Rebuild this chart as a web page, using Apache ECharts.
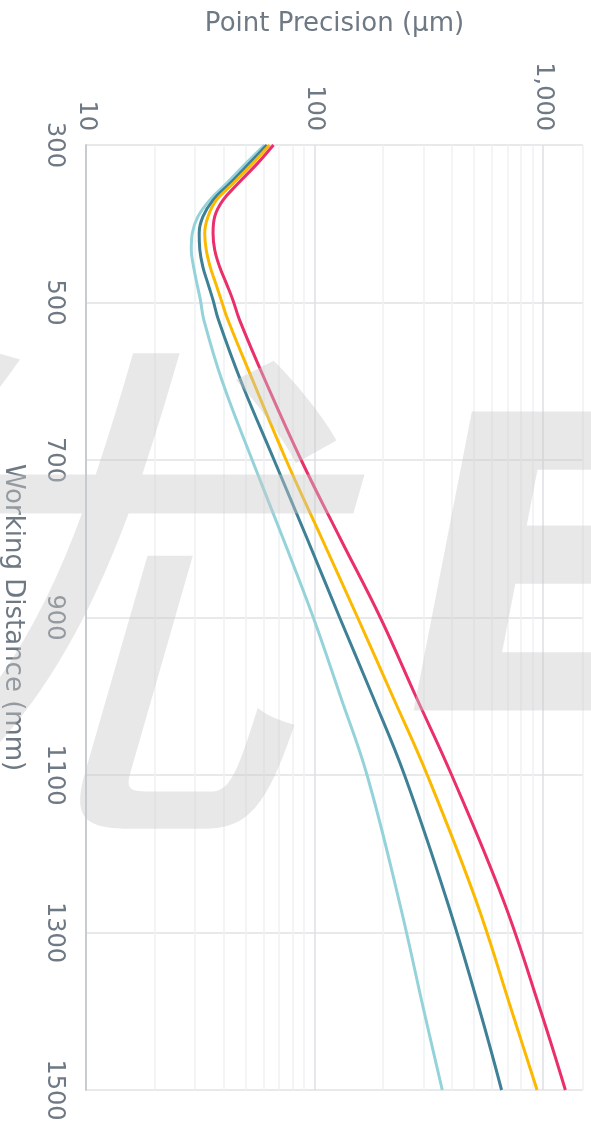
<!DOCTYPE html>
<html>
<head>
<meta charset="utf-8">
<script src="https://cdn.jsdelivr.net/npm/echarts@6/dist/echarts.min.js"></script>
<style>
html,body{margin:0;padding:0;background:#ffffff;}
#c{width:591px;height:1122px;}
</style>
</head>
<body>
<div id="c"></div>
<script>
// Working distance (mm) at which each precision value was read
const workingDistance = [300, 323, 349, 370, 391, 412, 433, 455, 476, 497, 522, 600, 700, 800, 900, 1000, 1100, 1260, 1400, 1500];
// Point precision (µm) for each curve
const lightBlue = [60.5, 50.3, 41.2, 34.8, 30.9, 29.2, 28.9, 29.6, 30.6, 31.7, 32.8, 39.5, 53.4, 73, 98.9, 130, 170, 235, 302, 363];
const darkTeal  = [61.9, 52.0, 42.6, 36.0, 32.5, 31.3, 31.5, 32.5, 34.2, 36.0, 38.0, 47.7, 66.6, 93, 129, 180, 248, 381, 531, 660];
const amber     = [63.6, 53.8, 44.0, 37.2, 34.2, 33.1, 33.6, 35.0, 37.0, 39.1, 41.8, 53.9, 75.2, 107.9, 154.6, 220, 312, 511, 732, 944];
const crimson   = [66.2, 56.5, 46.3, 39.8, 36.6, 36.0, 36.6, 38.5, 41.2, 44.0, 47.0, 61.1, 87.5, 130, 194.3, 278, 399, 674, 980, 1256];

const precisionMajorTicks = [10, 100, 1000];
const precisionTickLabels = ['10', '100', '1,000'];
const precisionMinorLines = [20, 30, 40, 50, 60, 70, 80, 90, 200, 300, 400, 500, 600, 700, 800, 900, 1500];
const precisionMajorLines = [100, 1000];

const FONT = 'DejaVu Sans';
const TEXT_COLOR = '#6e7984';
const WATERMARK = 'rgba(200,200,200,0.42)';

function pairs(vals) { return vals.map((v, i) => [v, workingDistance[i]]); }
function curve(name, vals, color) {
  return {
    name: name, type: 'line', data: pairs(vals), smooth: 0.4, symbol: 'none', z: 5,
    lineStyle: { color: color, width: 3 }, itemStyle: { color: color }
  };
}

const chart = echarts.init(document.getElementById('c'), null, { renderer: 'canvas' });
chart.setOption({
  animation: false,
  backgroundColor: '#ffffff',
  grid: { left: 86, right: 8, top: 145, bottom: 32, containLabel: false, outerBoundsMode: 'none' },
  xAxis: {
    type: 'log', logBase: 10, min: 10, max: 1500, position: 'top',
    axisLine: { show: false }, axisTick: { show: false }, splitLine: { show: false },
    axisLabel: {
      rotate: 90, margin: 14, color: TEXT_COLOR, fontFamily: FONT, fontSize: 24,
      formatter: function (v) {
        const i = precisionMajorTicks.indexOf(Math.round(v));
        return i >= 0 ? precisionTickLabels[i] : '';
      }
    },
    name: 'Point Precision (µm)', nameLocation: 'middle', nameGap: 108,
    nameTextStyle: { color: TEXT_COLOR, fontFamily: FONT, fontSize: 26 }
  },
  yAxis: {
    type: 'value', inverse: true, min: 300, max: 1500, interval: 200,
    axisLine: { show: true, lineStyle: { color: '#c7ccd2', width: 2 } },
    axisTick: { show: false },
    splitLine: { show: true, lineStyle: { color: '#dfe2e5', width: 1.5 } },
    axisLabel: {
      rotate: -90, margin: 20, color: TEXT_COLOR, fontFamily: FONT, fontSize: 24,
      formatter: function (v) { return String(v); }
    },
    name: 'Working Distance (mm)', nameLocation: 'middle', nameGap: 60, nameRotate: -90,
    nameTextStyle: { color: TEXT_COLOR, fontFamily: FONT, fontSize: 26 }
  },
  series: [
    {
      name: 'grid', type: 'line', data: [], z: 1, silent: true,
      markLine: {
        silent: true, symbol: 'none', label: { show: false }, animation: false,
        data: precisionMinorLines.map(v => ({ xAxis: v, lineStyle: { color: '#eff0f2', width: 1.5, type: 'solid' } }))
          .concat(precisionMajorLines.map(v => ({ xAxis: v, lineStyle: { color: '#dcdfe3', width: 1.5, type: 'solid' } })))
      }
    },
    curve('Series 1', lightBlue, '#95d3da'),
    curve('Series 2', darkTeal, '#3e8196'),
    curve('Series 3', amber, '#fbb900'),
    curve('Series 4', crimson, '#ea2f6a')
  ],
  graphic: [
    {
      type: 'text', silent: true, z: 100, x: -319, y: 325, scaleX: 1.15,
      style: {
        text: '优', fontSize: 540, fontFamily: 'Noto Sans CJK SC', fontWeight: 'normal', fontStyle: 'italic',
        fill: WATERMARK, textVerticalAlign: 'top'
      }
    },
    {
      type: 'text', silent: true, z: 100, x: 405, y: 399,
      style: {
        text: 'E', fontSize: 410, fontFamily: 'DejaVu Sans', fontWeight: 'bold', fontStyle: 'italic',
        fill: WATERMARK, textVerticalAlign: 'top'
      }
    }
  ]
});
</script>
</body>
</html>
